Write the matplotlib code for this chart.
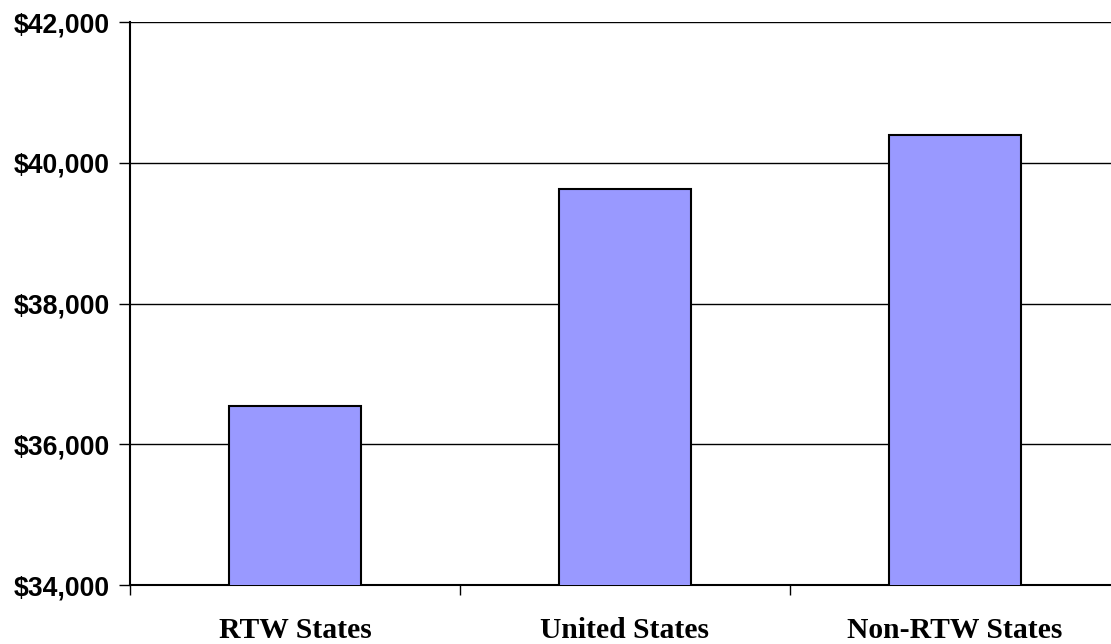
import matplotlib.pyplot as plt
from matplotlib.ticker import FuncFormatter

# Average annual pay
categories = ['RTW States', 'United States', 'Non-RTW States']
pay = [36550, 39630, 40395]
y_ticks = [34000, 36000, 38000, 40000, 42000]

fig = plt.figure(figsize=(11.11, 6.44), dpi=100)
ax = fig.add_axes([0.117, 0.0916, 0.891, 0.8742])

x = range(len(categories))
ax.bar(x, pay, width=0.40, color='#9999FF', edgecolor='black', linewidth=1.5, zorder=3)

ax.set_ylim(34000, 42000)
ax.set_xlim(-0.5, 2.5)
ax.set_yticks(y_ticks)
ax.yaxis.set_major_formatter(FuncFormatter(lambda v, p: '${:,.0f}'.format(v)))
ax.grid(axis='y', color='black', linewidth=1.0, zorder=0)

# category labels centred, tick marks between categories
ax.set_xticks([-0.5, 0.5, 1.5, 2.5])
ax.set_xticklabels([])
ax.set_xticks(list(x), minor=True)
ax.set_xticklabels(categories, minor=True, fontfamily='Liberation Serif',
                   fontweight='bold', fontsize=21.3)
ax.tick_params(axis='x', which='minor', length=0, pad=23)
ax.tick_params(axis='x', which='major', length=7, width=1, color='black')
ax.tick_params(axis='y', length=8, width=1, pad=6.5)
for lab in ax.get_yticklabels():
    lab.set_fontfamily('Liberation Sans')
    lab.set_fontweight('bold')
    lab.set_fontsize(19.2)

ax.spines['top'].set_visible(False)
ax.spines['right'].set_visible(False)
ax.spines['left'].set_linewidth(1.5)
ax.spines['bottom'].set_linewidth(1.5)

plt.savefig('out.png', dpi=100)
